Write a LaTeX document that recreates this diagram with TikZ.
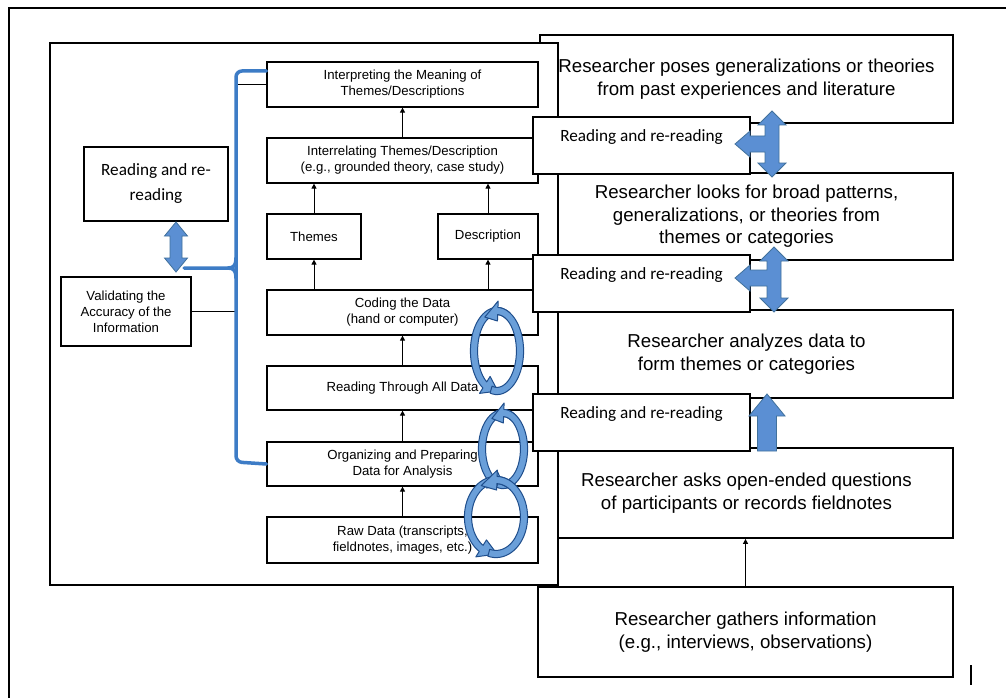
\documentclass[tikz,border=0pt]{standalone}
\usepackage{fontspec}
\setmainfont{Liberation Sans}
\newfontfamily\carlito{Carlito}
\usetikzlibrary{arrows.meta,calc}

\definecolor{arrowfill}{HTML}{5B8FD3}
\definecolor{arrowline}{HTML}{41719C}
\definecolor{bracketblue}{HTML}{3D7CC6}
\definecolor{loopfill}{HTML}{6A9FD9}
\definecolor{loopline}{HTML}{1F4E8C}

\tikzset{
  panelbox/.style={draw, line width=1.2pt, fill=white, inner sep=0pt, align=center,
    font=\fontsize{13.2}{16}\selectfont},
  rbox/.style={draw, line width=1.8pt, fill=white, inner sep=0pt, align=center,
    font=\fontsize{18.7}{22.5}\selectfont},
  readbox/.style={draw, line width=2.5pt, fill=white, inner sep=0pt, align=center,
    font=\carlito\fontsize{17.2}{25}\selectfont},
  readtext/.style={inner sep=0pt, font=\carlito\fontsize{17.2}{25}\selectfont},
  uparrow/.style={line width=1pt, -{Triangle[length=5pt,width=5pt]}},
  fatarrow/.style={fill=arrowfill, draw=arrowline, line width=0.8pt, line join=miter},
  bracket/.style={draw=bracketblue, line width=3.5pt, line cap=round, line join=round},
  loopstyle/.style={fill=loopfill, draw=loopline, line width=1pt, line join=round},
}

% curved band arrow on an ellipse: cx, cy, a, b, tail angle, head base angle, tip angle
\newcommand\bandarrow[7]{%
  \filldraw[loopstyle]
    plot[domain=0:1, samples=36, variable=\t]
      ({#1+(#3+3.6)*cos((#5)+((#6)-(#5))*\t)}, {#2+(#4+3.6)*sin((#5)+((#6)-(#5))*\t)})
    -- ({#1+(#3+10)*cos(#6)}, {#2+(#4+10)*sin(#6)})
    -- ({#1+#3*cos(#7)}, {#2+#4*sin(#7)})
    -- ({#1+(#3-10)*cos(#6)}, {#2+(#4-10)*sin(#6)})
    -- plot[domain=0:1, samples=36, variable=\t]
      ({#1+(#3-3.6)*cos((#6)+((#5)-(#6))*\t)}, {#2+(#4-3.6)*sin((#6)+((#5)-(#6))*\t)})
    -- cycle;}

% a pair of band arrows forming one loop
\newcommand\looppair[4]{%
  \bandarrow{#1}{#2}{#3}{#4}{-60}{-238}{-272}%
  \bandarrow{#1}{#2}{#3}{#4}{105}{-88}{-122}}

% three-way block arrow (up, down, left): cx, top, bottom, arm y, left tip x
\newcommand\harrow[5]{%
  \filldraw[fatarrow] (#1,#2) -- ({#1+14},{#2+14}) -- ({#1+7},{#2+14}) -- ({#1+7},{#3-14})
    -- ({#1+14},{#3-14}) -- (#1,#3) -- ({#1-14},{#3-14}) -- ({#1-7},{#3-14})
    -- ({#1-7},{#4+8}) -- ({#5+15},{#4+8}) -- ({#5+15},{#4+13}) -- (#5,#4)
    -- ({#5+15},{#4-13}) -- ({#5+15},{#4-8}) -- ({#1-7},{#4-8})
    -- ({#1-7},{#2+14}) -- ({#1-14},{#2+14}) -- cycle;}

\begin{document}
\begin{tikzpicture}[x=1pt,y=-1pt]
\useasboundingbox (0,0) rectangle (1006,698);
\fill[white] (0,0) rectangle (1006,698);

% outer frame
\draw[line width=2pt] (9,698) -- (9,8) -- (1006,8);
\draw[line width=1.5pt] (971,665) -- (971,685);

% right-hand column
\node[rbox, minimum width=413pt, minimum height=88pt] (poses) at (746.5,79)
  {Researcher poses generalizations or theories\\from past experiences and literature};
\node[rbox, minimum width=413pt, minimum height=87pt] (looks) at (746.5,216.5)
  {Researcher looks for broad patterns,\\generalizations, or theories from\\themes or categories};
\node[rbox, minimum width=413pt, minimum height=88pt] (analyzes) at (746.5,354)
  {Researcher analyzes data to\\form themes or categories};
\node[rbox, minimum width=413pt, minimum height=90pt] (asks) at (746.5,493)
  {Researcher asks open-ended questions\\of participants or records fieldnotes};
\node[rbox, minimum width=415pt, minimum height=90pt] (gathers) at (745.5,632)
  {Researcher gathers information\\(e.g., interviews, observations)};
\draw[uparrow] (gathers.north) -- (gathers.north |- asks.south);

% left-hand panel
\node[draw, line width=1.3pt, fill=white, minimum width=508pt, minimum height=542pt] (panel) at (304,314) {};

\node[panelbox, minimum width=271pt, minimum height=45pt] (interp) at (402.5,84.5)
  {Interpreting the Meaning of\\Themes/Descriptions};
\node[panelbox, minimum width=271pt, minimum height=45pt] (interrel) at (402.5,160.5)
  {Interrelating Themes/Description\\(e.g., grounded theory, case study)};
\node[panelbox, minimum width=94pt, minimum height=45pt] (themes) at (314,236.5) {Themes};
\node[panelbox, minimum width=100pt, minimum height=45pt] (desc) at (488,236.5) {Description};
\node[panelbox, minimum width=271pt, minimum height=45pt] (coding) at (402.5,312.5)
  {Coding the Data\\(hand or computer)};
\node[panelbox, minimum width=271pt, minimum height=44pt] (readall) at (402.5,388)
  {Reading Through All Data};
\node[panelbox, minimum width=271pt, minimum height=44pt] (organize) at (402.5,464)
  {Organizing and Preparing\\Data for Analysis};
\node[panelbox, minimum width=271pt, minimum height=46pt] (raw) at (402.5,540)
  {Raw Data (transcripts,\\fieldnotes, images, etc.)};
\node[panelbox, minimum width=130pt, minimum height=69pt] (val) at (126,311.5)
  {Validating the\\Accuracy of the\\Information};
\node[readbox, minimum width=144pt, minimum height=74pt] (lread) at (156,184)
  {Reading and re-\\reading};

\draw[uparrow] (interrel.north) -- (interp.south);
\draw[uparrow] (themes.north) -- (themes.north |- interrel.south);
\draw[uparrow] (desc.north) -- (desc.north |- interrel.south);
\draw[uparrow] (themes.south |- coding.north) -- (themes.south);
\draw[uparrow] (desc.south |- coding.north) -- (desc.south);
\draw[uparrow] (readall.north) -- (coding.south);
\draw[uparrow] (organize.north) -- (readall.south);
\draw[uparrow] (raw.north) -- (organize.south);

% validation link and blue brace
\coordinate (brtop) at ($(interp.west)+(0,-13.5)$);
\coordinate (brtip) at (236,268);
\draw[line width=1.2pt] (val.east) -| (236,84.5) -- (interp.west);
\draw[bracket, rounded corners=6pt] (brtop) -- (236,71) -- (236,462) -- (organize.west);
\draw[bracket] (184,268) -- (228,268) .. controls (234,268) and (236,265) .. (236,258);
\draw[bracket] (228,268) .. controls (234,268) and (236,271) .. (236,278);

% double block arrow under the left reading box
\filldraw[fatarrow] (176,222) -- (187.5,236) -- (182,236) -- (182,258) -- (187.5,258)
  -- (176,272) -- (164.5,258) -- (170,258) -- (170,236) -- (164.5,236) -- cycle;

% circular arrows along the data steps
\looppair{497}{351}{23}{40}
\looppair{503}{449}{21}{36}
\looppair{496}{517}{28}{37}

% reading boxes on the right
\node[readbox, minimum width=217pt, minimum height=57pt] (rr1) at (641.5,145.5) {};
\node[readtext] at ($(rr1.north)+(0,21)$) {Reading and re-reading};
\node[readbox, minimum width=217pt, minimum height=57pt] (rr2) at (641.5,283.5) {};
\node[readtext] at ($(rr2.north)+(0,21)$) {Reading and re-reading};
\node[readbox, minimum width=217pt, minimum height=57pt] (rr3) at (641.5,422.5) {};
\node[readtext] at ($(rr3.north)+(0,21)$) {Reading and re-reading};

% block arrows between the right column boxes
\harrow{772}{111}{177}{144}{735}
\harrow{774}{247}{312}{278}{735}
\filldraw[fatarrow] (767,394) -- (785,416) -- (776.5,416) -- (776.5,451) -- (757.5,451)
  -- (757.5,416) -- (749,416) -- cycle;
\end{tikzpicture}
\end{document}
